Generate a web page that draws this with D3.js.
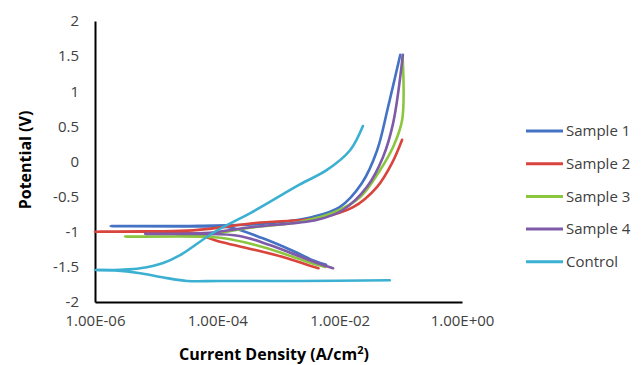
<meta charset="utf-8">
<style>
  body { margin: 0; background: #fff; }
  .axis text { font-family: "Open Sans", sans-serif; font-size: 15px; fill: #404040; }
  .axis path { stroke: #000; stroke-width: 2px; }
  .title { font-family: "Open Sans", sans-serif; font-size: 16px; font-weight: bold; fill: #000; }
  .legend text { font-family: "Open Sans", sans-serif; font-size: 15px; fill: #404040; }
  .curve { fill: none; stroke-width: 2.6px; stroke-linejoin: round; stroke-linecap: round; }
</style>
<script src="https://cdn.jsdelivr.net/npm/d3@7"></script>
<svg id="chart" width="644" height="365"></svg>
<script>
// values: current density (A/cm2) and potential (V)
var seriesNames = ["Sample 1", "Sample 2", "Sample 3", "Sample 4", "Control"];
var seriesColors = ["#4472c4", "#d9443c", "#8cc63f", "#7e5aa8", "#3bb0d2"];

var s1Current = [6e-3, 4e-3, 1.7e-3, 5.4e-4, 1.6e-4, 5e-5, 1.8e-6, 5.2e-5, 5e-4, 3.6e-3, 0.01, 0.023, 0.041, 0.062, 0.098];
var s1Potential = [-1.47, -1.42, -1.27, -1.09, -0.94, -0.925, -0.92, -0.915, -0.89, -0.79, -0.65, -0.31, 0.16, 0.78, 1.52];

var s2Current = [4.5e-3, 2.7e-3, 1.3e-3, 4.2e-4, 1.2e-4, 3.6e-5, 1e-6, 4e-5, 4.2e-4, 4.8e-3, 0.0166, 0.041, 0.072, 0.105];
var s2Potential = [-1.52, -1.46, -1.37, -1.26, -1.15, -1.02, -1.0, -0.98, -0.875, -0.80, -0.65, -0.36, -0.02, 0.31];

var s3Current = [5.8e-3, 3e-3, 1.3e-3, 4.2e-4, 1.2e-4, 5.2e-5, 3.1e-6, 6e-5, 3e-4, 2.2e-3, 7.8e-3, 0.0215, 0.046, 0.075, 0.105, 0.107];
var s3Potential = [-1.50, -1.43, -1.32, -1.19, -1.09, -1.07, -1.07, -1.05, -0.95, -0.86, -0.73, -0.51, -0.12, 0.21, 0.59, 1.49];

var s4Current = [7.8e-3, 4.8e-3, 2.2e-3, 7.2e-4, 2.3e-4, 5.2e-5, 6.6e-6, 6e-5, 4e-4, 4.3e-3, 0.0113, 0.028, 0.051, 0.075, 0.108];
var s4Potential = [-1.52, -1.46, -1.35, -1.19, -1.06, -1.03, -1.03, -1.02, -0.93, -0.83, -0.69, -0.36, 0.06, 0.55, 1.52];

var ctrlCurrent = [0.066, 2.2e-3, 1.1e-4, 3.2e-5, 1.5e-5, 5.5e-6, 2.1e-6, 1e-6, 2.6e-6, 5.5e-6, 1.3e-5, 2.5e-5, 9.1e-5, 3.7e-4, 2.2e-3, 6.2e-3, 0.0148, 0.024];
var ctrlPotential = [-1.69, -1.70, -1.70, -1.70, -1.66, -1.59, -1.55, -1.545, -1.54, -1.52, -1.445, -1.33, -1.0, -0.72, -0.33, -0.12, 0.16, 0.505];

var currentTicks = [1e-6, 1e-4, 1e-2, 1];
var currentTickLabels = ["1.00E-06", "1.00E-04", "1.00E-02", "1.00E+00"];
var potentialTicks = [-2, -1.5, -1, -0.5, 0, 0.5, 1, 1.5, 2];

var allCurrent = [s1Current, s2Current, s3Current, s4Current, ctrlCurrent];
var allPotential = [s1Potential, s2Potential, s3Potential, s4Potential, ctrlPotential];

var svg = d3.select("#chart");

var x = d3.scaleLog().domain([1e-6, 1]).range([95, 462]);
var y = d3.scaleLinear().domain([-2, 2]).range([302, 21]);

// axes
var xAxis = d3.axisBottom(x)
  .tickValues(currentTicks)
  .tickSize(0)
  .tickPadding(13)
  .tickFormat(function(d, i) { return currentTickLabels[i]; });
svg.append("g").attr("class", "axis")
  .attr("transform", "translate(0," + y(-2) + ")")
  .call(xAxis);

var yAxis = d3.axisLeft(y)
  .tickValues(potentialTicks)
  .tickSize(0)
  .tickPadding(16)
  .tickFormat(function(d) { return String(d); });
svg.append("g").attr("class", "axis")
  .attr("transform", "translate(" + x(1e-6) + ",0)")
  .call(yAxis);

// axis titles
svg.append("text").attr("class", "title")
  .attr("transform", "translate(31,160) rotate(-90)")
  .attr("text-anchor", "middle")
  .text("Potential (V)");

var xt = svg.append("text").attr("class", "title")
  .attr("x", 274).attr("y", 360)
  .attr("text-anchor", "middle");
xt.append("tspan").text("Current Density (A/cm");
xt.append("tspan").attr("font-size", "11px").attr("dy", "-6").text("2");
xt.append("tspan").attr("dy", "6").text(")");

// curves
var line = d3.line()
  .curve(d3.curveCatmullRom.alpha(0.5))
  .x(function(d) { return x(d[0]); })
  .y(function(d) { return y(d[1]); });

seriesNames.forEach(function(name, k) {
  var pts = allCurrent[k].map(function(c, i) { return [c, allPotential[k][i]]; });
  svg.append("path").attr("class", "curve")
    .attr("stroke", seriesColors[k])
    .attr("d", line(pts));
});

// legend
var legend = svg.append("g").attr("class", "legend");
seriesNames.forEach(function(name, k) {
  var ly = 131 + k * 32.7;
  legend.append("line")
    .attr("x1", 526).attr("x2", 563)
    .attr("y1", ly).attr("y2", ly)
    .attr("stroke", seriesColors[k])
    .attr("stroke-width", 3);
  legend.append("text")
    .attr("x", 566).attr("y", ly)
    .attr("dy", "0.35em")
    .text(name);
});
</script>
